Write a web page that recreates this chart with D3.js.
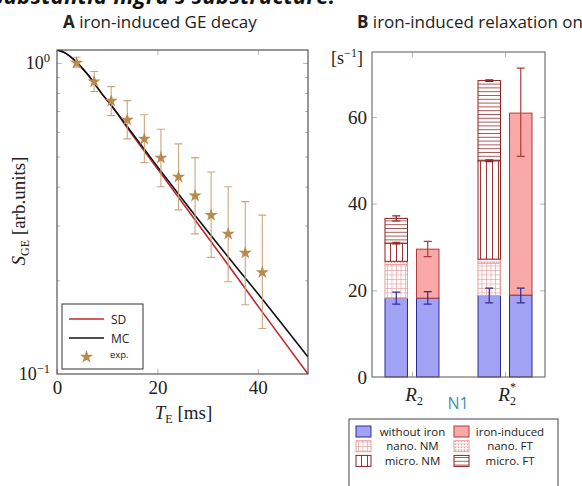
<!DOCTYPE html>
<html>
<head>
<meta charset="utf-8">
<script src="https://cdn.jsdelivr.net/npm/d3@7"></script>
<style>
body { margin: 0; background: #fff; }
.serif { font-family: "Liberation Serif", "DejaVu Serif", serif; }
.sans { font-family: "Open Sans", "Noto Sans", sans-serif; }
.tick line { stroke: #b5b5b5; }
</style>
</head>
<body>
<svg id="chart" width="582" height="486"></svg>
<script>
// ---- panel A data : GE decay ----
var mcTE = [0, 1.6, 3.2, 4.6, 6.0, 7.4, 8.8, 10.6, 14.5, 20.5, 26.5, 34.1, 40.4, 50];
var mcS  = [1.101, 1.077, 1.030, 0.978, 0.922, 0.862, 0.801, 0.738, 0.609, 0.453, 0.339, 0.2377, 0.1781, 0.1134];
var sdTE = [0, 1.6, 3.2, 4.6, 6.0, 7.4, 8.8, 10.6, 14.5, 20.5, 26.5, 34.1, 40.4, 50];
var sdS  = [1.101, 1.077, 1.030, 0.978, 0.922, 0.862, 0.801, 0.738, 0.603, 0.4456, 0.3291, 0.2241, 0.1622, 0.100];
var expTE = [3.9, 7.4, 10.8, 14.0, 17.4, 20.7, 24.2, 27.5, 30.7, 34.1, 37.5, 40.9];
var expS  = [1.00, 0.871, 0.755, 0.656, 0.570, 0.495, 0.430, 0.374, 0.324, 0.282, 0.245, 0.212];
var expLo = [0.969, 0.809, 0.677, 0.570, 0.478, 0.400, 0.337, 0.282, 0.237, 0.198, 0.167, 0.140];
var expHi = [1.043, 0.938, 0.839, 0.756, 0.681, 0.612, 0.549, 0.496, 0.446, 0.400, 0.358, 0.324];
var xTicksA = [0, 20, 40];
var minorTicksA = [0.2, 0.3, 0.4, 0.5, 0.6, 0.7, 0.8, 0.9];

// ---- panel B data : relaxation rates [1/s] ----
var groups = ["R2", "R2*"];
var stackNoIron = [18.2, 18.8];
var stackNoIronErr = [[16.8, 19.6], [17.1, 20.5]];
var nanoNM = [7.8, 7.5];
var nanoFT = [0.7, 0.9];
var microNM = [4.2, 22.7];
var microNMErr = [0.2, 0.2];
var microFT = [5.7, 18.5];
var microFTErr = [0.6, 0.2];
var totalNoIron = [18.2, 18.9];
var totalNoIronErr = [[16.8, 19.7], [17.1, 20.5]];
var ironInduced = [11.3, 42.0];
var ironInducedErr = [[27.8, 31.3], [50.9, 71.3]];
var yTicksB = [0, 20, 40, 60];

var svg = d3.select("#chart");
var defs = svg.append("defs");

var red = "#c4262b", gold = "#b98a4e", goldBar = "#c9a87e";
var blueFill = "#a2a2f4", blueLine = "#2c2c96";
var redFill = "#f9a8a8", redLine = "#b23a3a", darkRed = "#8e1f1f", lightRed = "#e6a0a0";

// patterns
function pat(id, w, h, draw) {
  var p = defs.append("pattern").attr("id", id).attr("patternUnits", "userSpaceOnUse")
    .attr("width", w).attr("height", h);
  p.append("rect").attr("width", w).attr("height", h).attr("fill", "#fff");
  draw(p);
}
pat("gridNM", 4.5, 4.5, function(p) {
  p.append("path").attr("d", "M0,0.3H4.5M0.3,0V4.5").attr("stroke", lightRed).attr("stroke-width", 0.8);
});
pat("dotFT", 3, 3, function(p) {
  p.append("circle").attr("cx", 1.5).attr("cy", 1.5).attr("r", 0.8).attr("fill", lightRed);
  p.append("path").attr("d", "M0,0.2H3").attr("stroke", lightRed).attr("stroke-width", 0.5);
});
pat("vertNM", 6, 6, function(p) {
  p.append("path").attr("d", "M0.5,0V6").attr("stroke", darkRed).attr("stroke-width", 0.9);
});
pat("horFT", 6, 3.8, function(p) {
  p.append("path").attr("d", "M0,0.5H6").attr("stroke", darkRed).attr("stroke-width", 0.75);
});

// top cut-off heading
svg.append("text").attr("class", "sans").attr("x", -7).attr("y", 4)
  .style("font-size", "22px").style("font-weight", "bold").style("font-style", "italic")
  .attr("textLength", 342).attr("fill", "#111")
  .text("substantia nigra's substructure:");

// ================= panel A =================
var A = {left: 57, right: 308, top: 50, bottom: 374};
var xA = d3.scaleLinear().domain([0, 50]).range([A.left, A.right]);
var yA = d3.scaleLog().domain([0.1, 1.1]).range([A.bottom, A.top]);

svg.append("text").attr("class", "sans").attr("x", 63).attr("y", 28)
  .style("font-size", "17px").attr("fill", "#222")
  .call(function(t) {
    t.append("tspan").style("font-weight", "bold").text("A");
    t.append("tspan").text(" iron-induced GE decay");
  });

var gA = svg.append("g");
gA.append("g").attr("transform", "translate(0," + A.bottom + ")")
  .call(d3.axisBottom(xA).tickValues(xTicksA).tickSize(-5).tickPadding(7))
  .call(function(g) {
    g.select(".domain").remove();
    g.selectAll("text").attr("class", "serif").style("font-size", "19px").attr("fill", "#222");
  });
gA.append("g").attr("transform", "translate(0," + A.top + ")")
  .call(d3.axisTop(xA).tickValues(xTicksA.slice(1)).tickSize(-5).tickFormat(""))
  .call(function(g) { g.select(".domain").remove(); });
[["left", A.left, d3.axisLeft], ["right", A.right, d3.axisRight]].forEach(function(s) {
  gA.append("g").attr("transform", "translate(" + s[1] + ",0)")
    .call(s[2](yA).tickValues(minorTicksA).tickSize(-3).tickFormat(""))
    .call(function(g) { g.select(".domain").remove(); });
  gA.append("g").attr("transform", "translate(" + s[1] + ",0)")
    .call(s[2](yA).tickValues([1]).tickSize(-5).tickFormat(""))
    .call(function(g) { g.select(".domain").remove(); });
});

// log labels
[[1, "0"], [0.1, "\u22121"]].forEach(function(d) {
  var t = svg.append("text").attr("class", "serif").attr("x", A.left - 7).attr("y", yA(d[0]) + 6)
    .attr("text-anchor", "end").style("font-size", "18px").attr("fill", "#222");
  t.append("tspan").text("10");
  t.append("tspan").attr("dy", -7).style("font-size", "12.5px").text(d[1]);
});

svg.append("clipPath").attr("id", "clipA").append("rect")
  .attr("x", A.left).attr("y", A.top).attr("width", A.right - A.left).attr("height", A.bottom - A.top);

var line = d3.line().x(function(d) { return xA(d[0]); }).y(function(d) { return yA(d[1]); })
  .curve(d3.curveMonotoneX);
var curves = svg.append("g").attr("clip-path", "url(#clipA)");
curves.append("path").attr("d", line(d3.zip(sdTE, sdS)))
  .attr("fill", "none").attr("stroke", red).attr("stroke-width", 1.6);
curves.append("path").attr("d", line(d3.zip(mcTE, mcS)))
  .attr("fill", "none").attr("stroke", "#111").attr("stroke-width", 1.6);

// experimental points
var exp = svg.append("g");
expTE.forEach(function(t, i) {
  var x = xA(t);
  exp.append("path").attr("d", "M" + x + "," + yA(expLo[i]) + "V" + yA(expHi[i]) +
      "M" + (x - 4) + "," + yA(expLo[i]) + "h8M" + (x - 4) + "," + yA(expHi[i]) + "h8")
    .attr("stroke", goldBar).attr("stroke-width", 1.1).attr("fill", "none");
});
exp.selectAll("path.star").data(expTE).join("path").attr("class", "star")
  .attr("transform", function(t, i) { return "translate(" + xA(t) + "," + yA(expS[i]) + ")"; })
  .attr("d", d3.symbol(d3.symbolStar, 54))
  .attr("fill", gold);

svg.append("rect").attr("x", A.left).attr("y", A.top).attr("width", A.right - A.left)
  .attr("height", A.bottom - A.top).attr("fill", "none").attr("stroke", "#444").attr("stroke-width", 1.1);

// legend A
var lgA = svg.append("g").attr("transform", "translate(62,304)");
lgA.append("rect").attr("width", 81).attr("height", 65).attr("fill", "#fff")
  .attr("stroke", "#333").attr("stroke-width", 1);
[["SD", red, 15], ["MC", "#111", 34]].forEach(function(d) {
  lgA.append("line").attr("x1", 7).attr("x2", 42).attr("y1", d[2]).attr("y2", d[2])
    .attr("stroke", d[1]).attr("stroke-width", 1.6);
  lgA.append("text").attr("class", "sans").attr("x", 49).attr("y", d[2] + 4.5)
    .style("font-size", "12px").attr("fill", "#222").text(d[0]);
});
lgA.append("path").attr("transform", "translate(24.5,53)").attr("d", d3.symbol(d3.symbolStar, 54)).attr("fill", gold);
lgA.append("text").attr("class", "sans").attr("x", 48).attr("y", 54)
  .style("font-size", "9.5px").attr("fill", "#222").text("exp.");

// axis titles A
svg.append("text").attr("class", "serif").attr("x", A.left + (A.right - A.left) / 2 + 1).attr("y", 419)
  .attr("text-anchor", "middle").style("font-size", "19px").attr("fill", "#222")
  .call(function(t) {
    t.append("tspan").style("font-style", "italic").text("T");
    t.append("tspan").attr("dy", 4).style("font-size", "12px").text("E");
    t.append("tspan").attr("dy", -4).text(" [ms]");
  });
svg.append("text").attr("class", "serif").attr("transform", "translate(25,211) rotate(-90)")
  .attr("text-anchor", "middle").style("font-size", "19px").attr("fill", "#222")
  .call(function(t) {
    t.append("tspan").style("font-style", "italic").text("S");
    t.append("tspan").attr("dy", 4).style("font-size", "12px").text("GE");
    t.append("tspan").attr("dy", -4).text(" [arb.units]");
  });

// ================= panel B =================
var B = {left: 372, right: 545, top: 52, bottom: 377};
var xB = d3.scalePoint().domain(groups).range([B.left, B.right]).padding(0.43);
var sub = d3.scaleBand().domain(["stack", "total"]).range([-27, 27]).paddingInner(0.286);
var yB = d3.scaleLinear().domain([0, 75]).range([B.bottom, B.top]);

svg.append("text").attr("class", "sans").attr("x", 357).attr("y", 28)
  .style("font-size", "17px").attr("fill", "#222")
  .call(function(t) {
    t.append("tspan").style("font-weight", "bold").text("B");
    t.append("tspan").text(" iron-induced relaxation on");
  });

var gB = svg.append("g");
[[B.left, d3.axisLeft], [B.right, d3.axisRight]].forEach(function(s) {
  gB.append("g").attr("transform", "translate(" + s[0] + ",0)")
    .call(s[1](yB).tickValues(yTicksB.slice(1)).tickSize(-5).tickFormat(""))
    .call(function(g) { g.select(".domain").remove(); });
});
gB.append("g").attr("transform", "translate(0," + B.top + ")")
  .call(d3.axisTop(xB).tickSize(-5).tickFormat(""))
  .call(function(g) { g.select(".domain").remove(); });
gB.append("g").attr("transform", "translate(0," + B.bottom + ")")
  .call(d3.axisBottom(xB).tickSize(-5).tickFormat(""))
  .call(function(g) { g.select(".domain").remove(); });

yTicksB.forEach(function(v) {
  svg.append("text").attr("class", "serif").attr("x", B.left - 5).attr("y", yB(v) + 6.5)
    .attr("text-anchor", "end").style("font-size", "19px").attr("fill", "#222").text(v);
});
svg.append("text").attr("class", "serif").attr("x", 347).attr("y", 64)
  .attr("text-anchor", "middle").style("font-size", "18px").attr("fill", "#222")
  .call(function(t) {
    t.append("tspan").text("[s");
    t.append("tspan").attr("dy", -7).style("font-size", "12px").text("\u22121");
    t.append("tspan").attr("dy", 7).text("]");
  });

var bars = svg.append("g");
function seg(x, y0, y1, fill, stroke) {
  bars.append("rect").attr("x", x).attr("width", sub.bandwidth())
    .attr("y", yB(y1)).attr("height", yB(y0) - yB(y1))
    .attr("fill", fill).attr("stroke", stroke).attr("stroke-width", 1);
}
function err(cx, lo, hi, color) {
  bars.append("path").attr("d", "M" + cx + "," + yB(lo) + "V" + yB(hi) +
      "M" + (cx - 4) + "," + yB(lo) + "h8M" + (cx - 4) + "," + yB(hi) + "h8")
    .attr("stroke", color).attr("stroke-width", 1.2).attr("fill", "none");
}
groups.forEach(function(g, i) {
  // left bar: stacked contributions
  var x = xB(g) + sub("stack"), cx = x + sub.bandwidth() / 2;
  var b0 = stackNoIron[i], b1 = b0 + nanoNM[i], b2 = b1 + nanoFT[i], b3 = b2 + microNM[i], b4 = b3 + microFT[i];
  seg(x, 0, b0, blueFill, blueLine);
  seg(x, b0, b1, "url(#gridNM)", lightRed);
  seg(x, b1, b2, "url(#dotFT)", lightRed);
  seg(x, b2, b3, "url(#vertNM)", darkRed);
  seg(x, b3, b4, "url(#horFT)", darkRed);
  err(cx, stackNoIronErr[i][0], stackNoIronErr[i][1], blueLine);
  err(cx, b3 - microNMErr[i], b3 + microNMErr[i], darkRed);
  err(cx, b4 - microFTErr[i], b4 + microFTErr[i], darkRed);
  // right bar: measured total
  var x2 = xB(g) + sub("total"), cx2 = x2 + sub.bandwidth() / 2;
  seg(x2, 0, totalNoIron[i], blueFill, blueLine);
  seg(x2, totalNoIron[i], totalNoIron[i] + ironInduced[i], redFill, redLine);
  err(cx2, totalNoIronErr[i][0], totalNoIronErr[i][1], blueLine);
  err(cx2, ironInducedErr[i][0], ironInducedErr[i][1], redLine);
});

svg.append("rect").attr("x", B.left).attr("y", B.top).attr("width", B.right - B.left)
  .attr("height", B.bottom - B.top).attr("fill", "none").attr("stroke", "#666").attr("stroke-width", 1.1);

// category labels
groups.forEach(function(g) {
  var cx = xB(g) + 4;
  var t = svg.append("text").attr("class", "serif").attr("x", cx - 5).attr("y", 401)
    .attr("text-anchor", "middle").style("font-size", "19px").attr("fill", "#222");
  t.append("tspan").style("font-style", "italic").text("R");
  svg.append("text").attr("class", "serif").attr("x", cx + 1).attr("y", 405)
    .style("font-size", "12px").attr("fill", "#222").text("2");
  if (g === "R2*") {
    svg.append("text").attr("class", "serif").attr("x", cx + 1).attr("y", 391)
      .style("font-size", "12px").attr("fill", "#222").text("*");
  }
});
svg.append("text").attr("class", "sans").attr("x", 458).attr("y", 409)
  .attr("text-anchor", "middle").style("font-size", "16px").attr("fill", "#3b8fc0").text("N1");

// legend B
var lgB = svg.append("g").attr("transform", "translate(349,419)");
lgB.append("rect").attr("width", 209).attr("height", 80).attr("fill", "#fff")
  .attr("stroke", "#444").attr("stroke-width", 1);
var legItems = [
  ["without iron", blueFill, blueLine], ["iron-induced", redFill, redLine],
  ["nano. NM", "url(#gridNM)", lightRed], ["nano. FT", "url(#dotFT)", lightRed],
  ["micro. NM", "url(#vertNM)", darkRed], ["micro. FT", "url(#horFT)", darkRed]
];
legItems.forEach(function(d, i) {
  var col = i % 2, row = Math.floor(i / 2);
  var lx = col === 0 ? 7 : 105, ly = 7 + row * 14.7;
  lgB.append("rect").attr("x", lx).attr("y", ly).attr("width", 15).attr("height", 11)
    .attr("fill", d[1]).attr("stroke", d[2]).attr("stroke-width", 1);
  lgB.append("text").attr("class", "sans").attr("x", col === 0 ? 63.5 : 161).attr("y", ly + 9.5)
    .attr("text-anchor", "middle").style("font-size", "11.5px").attr("fill", "#222").text(d[0]);
});
</script>
</body>
</html>
